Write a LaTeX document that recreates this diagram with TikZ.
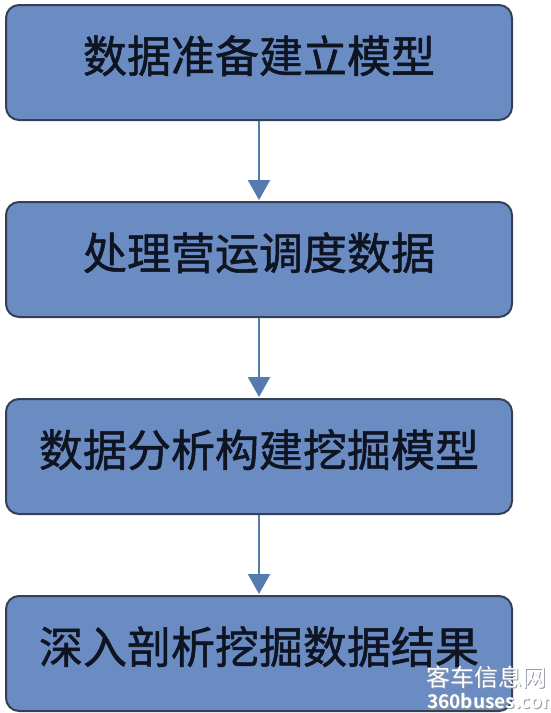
\documentclass[tikz,border=0pt]{standalone}
\usepackage{fontspec}
\usepackage{xcolor}
\usetikzlibrary{arrows.meta,positioning}
\newfontfamily\cjk[FakeBold=1.2]{Noto Sans CJK SC}
\newfontfamily\cjkw{Noto Sans CJK SC}
\newfontfamily\cjkb{Noto Sans CJK SC Bold}

\definecolor{boxfill}{RGB}{106,140,194}
\definecolor{boxline}{RGB}{52,64,84}
\definecolor{flowcol}{RGB}{84,122,176}
\definecolor{txtcol}{RGB}{14,20,34}
\definecolor{markshade}{RGB}{150,156,166}

\tikzset{
    stepbox/.style={draw=boxline, line width=2pt, fill=boxfill, rounded corners=13pt,
        minimum width=506pt, minimum height=115pt, inner sep=0pt,
        text height=36pt, text depth=16pt,
        text=txtcol, font=\cjk\fontsize{44}{48}\selectfont},
    flow/.style={draw=flowcol, line width=2.2pt, -{Triangle[width=22pt,length=20pt]}, shorten >=1pt},
    markshadow/.style={inner sep=0pt, text=markshade},
    marktext/.style={inner sep=0pt, text=white}
}

\begin{document}
\begin{tikzpicture}[node distance=80pt]
    \useasboundingbox (0,0) rectangle (550pt,-713pt);
    \node (prep) [stepbox] at (259pt,-62.5pt) {数据准备建立模型};
    \node (proc) [stepbox, below=of prep] {处理营运调度数据};
    \node (mine) [stepbox, below=of proc] {数据分析构建挖掘模型};
    \node (deep) [stepbox, below=of mine] {深入剖析挖掘数据结果};

    \draw [flow] (prep) -- (proc);
    \draw [flow] (proc) -- (mine);
    \draw [flow] (mine) -- (deep);

    % watermark
    \begin{scope}
        \clip (0,0) rectangle (550pt,-713pt);
        \node (markbg) [markshadow, anchor=south west, font=\cjkw\fontsize{24}{26}\selectfont] at (427pt,-690pt) {客车信息网};
        \node (mark) [marktext, anchor=south west, font=\cjkw\fontsize{24}{26}\selectfont] at (426pt,-689pt) {客车信息网};
        \node (sitebg) [markshadow, anchor=north west, font=\cjkb\fontsize{19}{21}\selectfont] at (428pt,-694pt) {360buses.com};
        \node (site) [marktext, anchor=north west, font=\cjkb\fontsize{19}{21}\selectfont] at (427pt,-693pt) {360buses.com};
    \end{scope}
\end{tikzpicture}
\end{document}
